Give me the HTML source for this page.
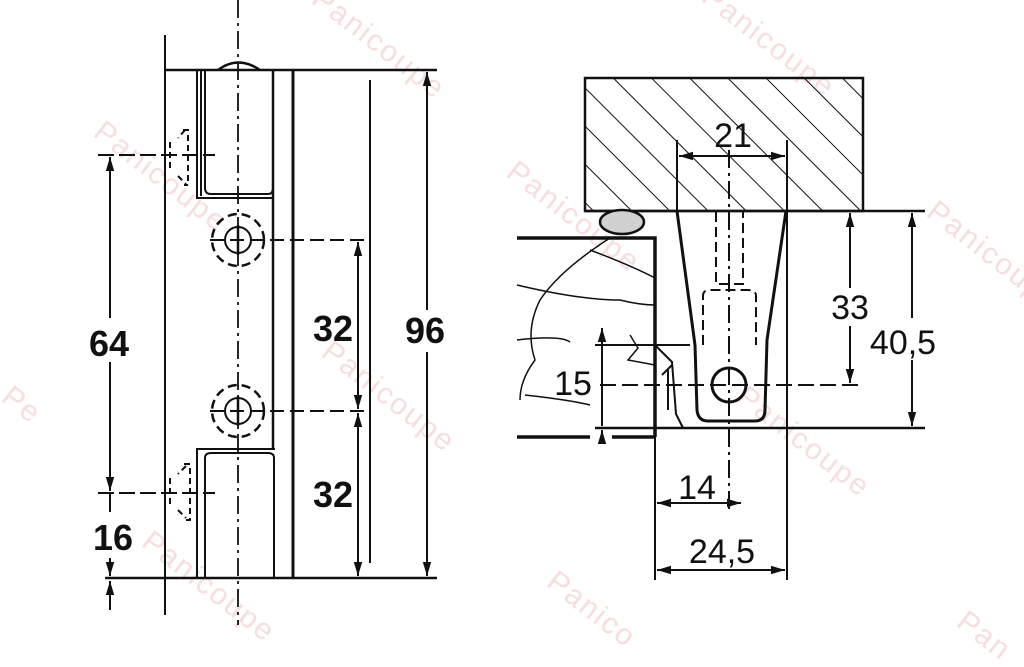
<!DOCTYPE html>
<html><head><meta charset="utf-8"><style>
html,body{margin:0;padding:0;background:#fff;overflow:hidden;width:1024px;height:667px;}
svg{display:block;}
.b{font-family:"Liberation Sans",sans-serif;font-weight:bold;font-size:36px;fill:#111;}
.r{font-family:"Liberation Sans",sans-serif;font-size:34px;fill:#111;}
.w{font-family:"Liberation Sans",sans-serif;font-size:30px;fill:#f4d0d0;letter-spacing:2px;}
</style></head><body>
<svg width="1024" height="667" viewBox="0 0 1024 667" xmlns="http://www.w3.org/2000/svg">
<defs>
<marker id="a" viewBox="0 0 10 10" refX="10" refY="5" markerWidth="7" markerHeight="9" orient="auto-start-reverse"><path d="M0,2 L10,5 L0,8 z" fill="#111"/></marker>
<pattern id="h" width="27" height="27" patternUnits="userSpaceOnUse" patternTransform="rotate(-45)"><line x1="0" y1="0" x2="0" y2="27" stroke="#111" stroke-width="2"/></pattern>
</defs>
<g opacity="0.7">
<text class="w" transform="translate(92,135) rotate(38)">Panicoupe</text>
<text class="w" transform="translate(310,2) rotate(38)">Panicoupe</text>
<text class="w" transform="translate(320,355) rotate(38)">Panicoupe</text>
<text class="w" transform="translate(140,545) rotate(38)">Panicoupe</text>
<text class="w" transform="translate(505,175) rotate(38)">Panicoupe</text>
<text class="w" transform="translate(700,0) rotate(38)">Panicoupe</text>
<text class="w" transform="translate(735,400) rotate(38)">Panicoupe</text>
<text class="w" transform="translate(545,585) rotate(38)">Panico</text>
<text class="w" transform="translate(925,215) rotate(38)">Panicoupe</text>
<text class="w" transform="translate(955,625) rotate(38)">Pan</text>
<text class="w" transform="translate(0,400) rotate(38)">Pe</text>
</g>
<g stroke="#111" fill="none" stroke-width="2">
<line x1="165" y1="35" x2="165" y2="615"/>
<line x1="165" y1="70" x2="437" y2="70" stroke-width="2.5"/>
<line x1="105" y1="578" x2="437" y2="578" stroke-width="2.5"/>
<line x1="293" y1="70" x2="293" y2="578" stroke-width="3"/>
<polyline points="197,70 197,198 273,198"/>
<line x1="201" y1="70" x2="201" y2="196"/>
<path d="M205,70 L205,188 Q205,194 211,194 L268,194 Q273,194 273,188 L273,70"/>
<line x1="273" y1="70" x2="273" y2="449" stroke-width="2.5"/>
<polyline points="197,578 197,449 275,449"/>
<path d="M205,578 L205,458 Q205,453 211,453 L268,453 Q274,453 274,458 L274,578"/>
<path d="M218,70 Q238,55 260,70" stroke-width="2.5"/>
<line x1="238" y1="0" x2="238" y2="625" stroke-dasharray="18,5,3,5" stroke-width="1.8"/>
<circle cx="238" cy="240" r="26" stroke-dasharray="9,5" stroke-width="2.5"/>
<circle cx="238" cy="240" r="13" stroke-width="2"/>
<circle cx="238" cy="411" r="26" stroke-dasharray="9,5" stroke-width="2.5"/>
<circle cx="238" cy="411" r="13" stroke-width="2"/>
<line x1="210" y1="240" x2="370" y2="240" stroke-dasharray="14,6"/>
<line x1="210" y1="411" x2="370" y2="411" stroke-dasharray="14,6"/>
<line x1="238" y1="225" x2="238" y2="255" stroke-width="2.5"/>
<line x1="238" y1="396" x2="238" y2="426" stroke-width="2.5"/>
<line x1="370" y1="80" x2="370" y2="563"/>
<line x1="358" y1="242" x2="358" y2="409" marker-start="url(#a)" marker-end="url(#a)"/>
<line x1="358" y1="413" x2="358" y2="576" marker-start="url(#a)" marker-end="url(#a)"/>
<line x1="427" y1="72" x2="427" y2="310" marker-start="url(#a)"/>
<line x1="427" y1="352" x2="427" y2="576" marker-end="url(#a)"/>
<line x1="110" y1="157" x2="110" y2="318" marker-start="url(#a)"/>
<line x1="110" y1="362" x2="110" y2="491" marker-end="url(#a)"/>
<line x1="110" y1="493" x2="110" y2="512"/>
<line x1="110" y1="558" x2="110" y2="576" marker-end="url(#a)"/>
<line x1="110" y1="610" x2="110" y2="581" marker-end="url(#a)"/>
<line x1="98" y1="155" x2="215" y2="155" stroke-dasharray="16,5"/>
<line x1="98" y1="493" x2="215" y2="493" stroke-dasharray="16,5"/>
<path d="M185,130 L178,138 M170,142 L170,168 M178,176 L186,184 M183,130 L188,130 L188,185 L184,185" stroke-dasharray="6,4"/>
<path d="M186,466 L178,474 M170,478 L170,505 M178,510 L186,518 M184,464 L190,464 L190,520 L184,520" stroke-dasharray="6,4"/>
<rect x="585" y="78" width="278" height="133" fill="url(#h)" stroke-width="2.5"/>
<line x1="585" y1="211" x2="925" y2="211" stroke-width="2.5"/>
<line x1="677" y1="140" x2="677" y2="212"/>
<line x1="787" y1="140" x2="787" y2="580"/>
<line x1="679" y1="156" x2="785" y2="156" marker-start="url(#a)" marker-end="url(#a)"/>
<line x1="729" y1="150" x2="729" y2="512" stroke-dasharray="18,5,3,5"/>
<path d="M677,211 L695,345 L697,410 Q698,421 708,421 L755,421 Q765,421 765,410 L767,340 L786,211" stroke-width="3"/>
<circle cx="729" cy="385" r="17" stroke-width="3"/>
<path d="M716,212 L716,284 L743,284 L743,212" stroke-dasharray="10,5"/>
<path d="M703,345 L703,296 Q703,290 710,290 L748,290 Q756,290 756,296 L756,345" stroke-dasharray="10,5"/>
<ellipse cx="622" cy="222" rx="22" ry="12" fill="#d0d0d0" stroke-width="2.5"/>
<polyline points="517,238 655,238 655,437" stroke-width="3.5"/>
<line x1="517" y1="437" x2="590" y2="437" stroke-width="3.5"/>
<line x1="612" y1="437" x2="655" y2="437" stroke-width="3.5"/>
<line x1="595" y1="428" x2="925" y2="428" stroke-width="2.5"/>
<line x1="595" y1="345" x2="690" y2="345"/>
<line x1="600" y1="385" x2="860" y2="385" stroke-dasharray="16,6"/>
<line x1="850" y1="213" x2="850" y2="288" marker-start="url(#a)"/>
<line x1="850" y1="326" x2="850" y2="383" marker-end="url(#a)"/>
<line x1="912" y1="213" x2="912" y2="318" marker-start="url(#a)"/>
<line x1="912" y1="360" x2="912" y2="426" marker-end="url(#a)"/>
<line x1="602" y1="347" x2="602" y2="328" marker-end="url(#a)"/>
<line x1="602" y1="347" x2="602" y2="426"/>
<line x1="602" y1="440" x2="602" y2="430" marker-end="url(#a)"/>
<line x1="655" y1="437" x2="655" y2="580"/>
<line x1="657" y1="503" x2="741" y2="503" marker-start="url(#a)" marker-end="url(#a)"/>
<line x1="657" y1="570" x2="785" y2="570" marker-start="url(#a)" marker-end="url(#a)"/>
<path d="M655,345 L672,362 L676,414 L683,428 M662,375 L672,365 M668,370 L668,410" stroke-width="2"/>
<g stroke-width="1.5">
<path d="M610,238 Q560,270 540,300 Q525,330 535,360 Q520,380 520,400"/>
<path d="M517,285 Q580,300 620,300 Q640,305 655,305"/>
<path d="M517,340 Q560,335 570,342"/>
<path d="M525,395 Q570,400 590,405"/>
<path d="M630,335 L638,348 L628,360 L655,365"/>
<path d="M590,250 Q630,265 655,278"/>
</g>
</g>
<text class="b" x="109" y="356" text-anchor="middle">64</text>
<text class="b" x="333" y="341" text-anchor="middle">32</text>
<text class="b" x="425" y="343" text-anchor="middle">96</text>
<text class="b" x="333" y="507" text-anchor="middle">32</text>
<text class="b" x="113" y="550" text-anchor="middle">16</text>
<text class="r" x="733" y="147" text-anchor="middle">21</text>
<text class="r" x="850" y="319" text-anchor="middle">33</text>
<text class="r" x="903" y="354" text-anchor="middle">40,5</text>
<text class="r" x="573" y="395" text-anchor="middle">15</text>
<text class="r" x="697" y="499" text-anchor="middle">14</text>
<text class="r" x="722" y="563" text-anchor="middle">24,5</text>
</svg>
</body></html>
